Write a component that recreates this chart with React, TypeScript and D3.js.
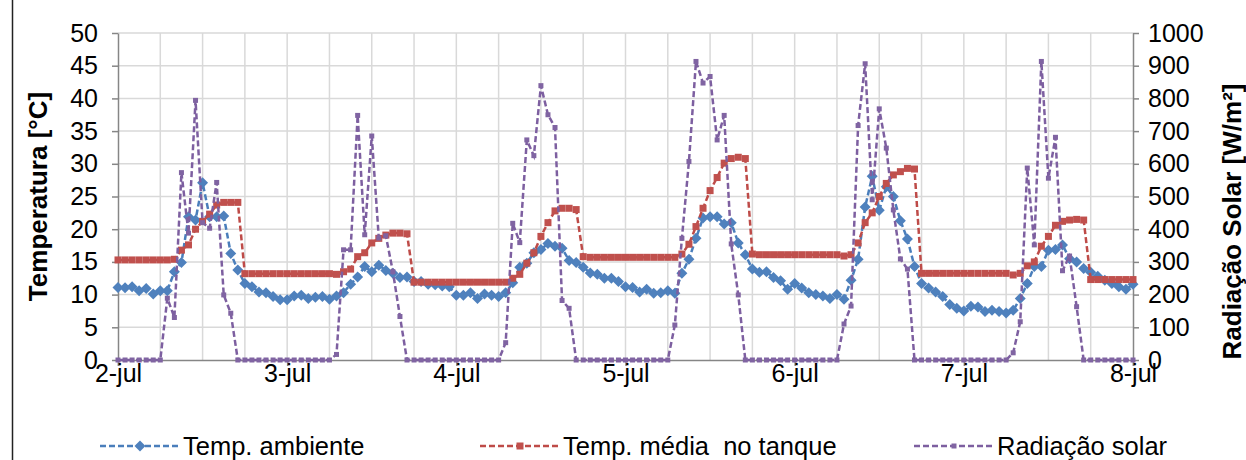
import React, {Component} from 'react';
import * as d3 from "d3"

// dias no eixo x (uma marca a cada 24 h)
const dayLabels = ["2-jul", "3-jul", "4-jul", "5-jul", "6-jul", "7-jul", "8-jul"]

// leituras horárias, 2-jul 00h até 8-jul 00h
const tempAmbiente = [
  11.1, 11.05, 11.2, 10.6, 10.95, 10.1, 10.6, 10.6, 13.5, 14.9, 21.9, 21.4, 27.1, 21.9, 21.9, 22.0, 16.3, 13.75, 11.7, 11.2, 10.4, 10.3, 9.7, 9.2,
  9.2, 9.8, 9.9, 9.4, 9.6, 9.7, 9.3, 9.8, 10.3, 11.6, 12.7, 14.3, 13.5, 14.5, 13.7, 13.25, 12.6, 12.7, 12.0, 12.0, 11.6, 11.5, 11.3, 11.2,
  9.9, 9.9, 10.3, 9.4, 10.1, 9.9, 9.7, 10.3, 11.8, 14.2, 14.8, 16.4, 16.9, 17.8, 17.4, 17.1, 15.2, 14.9, 14.2, 13.3, 13.1, 12.5, 12.5, 12.0,
  11.2, 11.1, 10.4, 10.8, 10.2, 10.3, 10.6, 10.2, 13.25, 15.4, 18.6, 21.7, 21.9, 21.9, 20.8, 21.0, 17.9, 16.1, 13.9, 13.4, 13.5, 12.6, 12.1, 10.8,
  11.7, 11.0, 10.3, 10.0, 9.8, 9.4, 10.0, 9.3, 12.2, 15.4, 23.4, 28.1, 22.9, 26.5, 25.0, 21.3, 18.5, 14.3, 11.7, 11.0, 10.4, 9.7, 8.5, 7.9,
  7.5, 8.2, 8.1, 7.4, 7.6, 7.4, 7.2, 7.6, 9.4, 11.7, 14.3, 14.3, 16.8, 16.9, 17.6, 15.5, 15.0, 14.0, 13.4, 12.8, 12.2, 11.7, 11.2, 10.8,
  11.6
]
const tempTanque = [
  15.3, 15.3, 15.3, 15.3, 15.3, 15.3, 15.3, 15.3, 15.4, 16.8, 17.6, 20.0, 21.2, 22.3, 23.7, 24.1, 24.1, 24.1, 13.2, 13.2, 13.2, 13.2, 13.2, 13.2,
  13.2, 13.2, 13.2, 13.2, 13.2, 13.2, 13.2, 13.1, 13.5, 13.9, 15.8, 16.4, 17.9, 18.6, 19.1, 19.4, 19.4, 19.3, 11.9, 11.9, 11.9, 11.9, 11.9, 11.9,
  11.9, 11.9, 11.9, 11.9, 11.9, 11.9, 11.9, 11.9, 12.5, 13.1, 14.8, 16.4, 18.9, 21.0, 22.8, 23.2, 23.2, 23.0, 15.8, 15.7, 15.7, 15.7, 15.7, 15.7,
  15.7, 15.7, 15.7, 15.7, 15.7, 15.7, 15.7, 15.7, 16.2, 17.7, 20.4, 23.2, 25.9, 27.9, 30.1, 30.8, 31.0, 30.8, 16.2, 16.1, 16.1, 16.1, 16.1, 16.1,
  16.1, 16.1, 16.1, 16.1, 16.1, 16.1, 16.1, 15.9, 16.1, 17.9, 21.0, 22.5, 25.0, 27.0, 28.3, 28.8, 29.3, 29.2, 13.25, 13.25, 13.25, 13.25, 13.25, 13.25,
  13.25, 13.25, 13.25, 13.25, 13.25, 13.25, 13.25, 13.0, 13.25, 14.4, 15.0, 17.4, 18.9, 20.6, 21.2, 21.4, 21.5, 21.4, 12.3, 12.3, 12.3, 12.3, 12.3, 12.3,
  12.3
]
const radiacaoSolar = [
  0, 0, 0, 0, 0, 0, 0, 189, 130, 573, 388, 794, 420, 403, 543, 199, 143, 0, 0, 0, 0, 0, 0, 0,
  0, 0, 0, 0, 0, 0, 0, 17, 337, 337, 748, 383, 685, 373, 380, 270, 133, 0, 0, 0, 0, 0, 0, 0,
  0, 0, 0, 0, 0, 0, 0, 53, 418, 359, 673, 625, 839, 750, 711, 182, 158, 0, 0, 0, 0, 0, 0, 0,
  0, 0, 0, 0, 0, 0, 0, 107, 372, 607, 913, 847, 867, 673, 748, 355, 199, 0, 0, 0, 0, 0, 0, 0,
  0, 0, 0, 0, 0, 0, 0, 110, 165, 717, 906, 490, 768, 648, 459, 309, 278, 0, 0, 0, 0, 0, 0, 0,
  0, 0, 0, 0, 0, 0, 0, 22, 117, 587, 352, 913, 556, 681, 273, 318, 163, 0, 0, 0, 0, 0, 0, 0,
  0
]

const seriesNames = ["Temp. ambiente", "Temp. média  no tanque", "Radiação solar"]

interface AppProps {}
interface AppState {}

class App extends Component<AppProps, AppState> {
  renderChart() {
    document.body.style.margin = "0"
    const width = 1246
    const height = 460
    const margin = {top: 33, right: 113, bottom: 100, left: 118}
    const font = "'Liberation Sans', Arial, sans-serif"

    const el = document.getElementById("chart") as HTMLElement
    el.innerHTML = ""
    const svg = d3.select(el).append("svg")
      .attr("width", width).attr("height", height)
      .style("display", "block")
      .style("font-family", font)

    svg.append("rect").attr("width", width).attr("height", height).attr("fill", "#fff")
    // moldura do gráfico
    svg.append("line").attr("x1", 12.5).attr("x2", 12.5).attr("y1", 0).attr("y2", height)
      .attr("stroke", "#222").attr("stroke-width", 1.5)

    const hours = d3.range(tempAmbiente.length)
    const x = d3.scaleLinear().domain([0, 144]).range([margin.left, width - margin.right])
    const yT = d3.scaleLinear().domain([0, 50]).range([height - margin.bottom, margin.top])
    const yR = d3.scaleLinear().domain([0, 1000]).range([height - margin.bottom, margin.top])

    // grelha
    const grid = svg.append("g").attr("stroke", "#d9d9d9").attr("stroke-width", 1.5)
    grid.selectAll(".h").data(d3.range(5, 55, 5)).join("line")
      .attr("x1", x(0)).attr("x2", x(144))
      .attr("y1", d => yT(d)).attr("y2", d => yT(d))
    grid.selectAll(".v").data(d3.range(6, 144, 6)).join("line")
      .attr("x1", d => x(d)).attr("x2", d => x(d))
      .attr("y1", yT(0)).attr("y2", yT(50))

    const styleAxis = (g: any) => {
      g.select(".domain").attr("stroke", "#868686").attr("stroke-width", 1.5)
      g.selectAll(".tick line").attr("stroke", "#868686").attr("stroke-width", 1.5)
      g.selectAll("text").attr("font-size", 25).attr("fill", "#000").attr("font-family", font)
    }

    svg.append("g")
      .attr("transform", `translate(0,${yT(0)})`)
      .call(d3.axisBottom(x).tickValues(d3.range(0, 145, 24)).tickSizeOuter(0).tickSize(6)
        .tickFormat((d: any, i: number) => dayLabels[i]))
      .call(styleAxis)
      .call((g: any) => g.selectAll("text").attr("y", 4))

    svg.append("g")
      .attr("transform", `translate(${x(0)},0)`)
      .call(d3.axisLeft(yT).tickValues(d3.range(0, 55, 5)).tickSize(6).tickSizeOuter(0).tickPadding(14))
      .call(styleAxis)

    svg.append("g")
      .attr("transform", `translate(${x(144)},0)`)
      .call(d3.axisRight(yR).tickValues(d3.range(0, 1100, 100)).tickFormat(d3.format("d"))
        .tickSize(6).tickSizeOuter(0).tickPadding(9))
      .call(styleAxis)

    // títulos dos eixos
    svg.append("text")
      .attr("transform", `translate(47,${(yT(0) + yT(50)) / 2}) rotate(-90)`)
      .attr("text-anchor", "middle").attr("font-size", 26).attr("font-weight", "bold")
      .text("Temperatura [°C]")
    svg.append("text")
      .attr("transform", `translate(1241,${(yT(0) + yT(50)) / 2 + 25}) rotate(-90)`)
      .attr("text-anchor", "middle").attr("font-size", 26).attr("font-weight", "bold")
      .text("Radiação Solar [W/m²]")

    // séries
    const series = [
      {values: tempAmbiente, y: yT, line: "#4a7ebb", fill: "#4f81bd", marker: "diamond", size: 5.5},
      {values: tempTanque, y: yT, line: "#be4b48", fill: "#c0504d", marker: "square", size: 7},
      {values: radiacaoSolar, y: yR, line: "#7d5fa0", fill: "#8064a2", marker: "square", size: 5},
    ]

    const drawMarker = (g: any, s: any, cx: number, cy: number) => {
      if (s.marker === "diamond") {
        const r = s.size
        g.append("path")
          .attr("d", `M${cx},${cy - r}L${cx + r},${cy}L${cx},${cy + r}L${cx - r},${cy}Z`)
          .attr("fill", s.fill)
      } else {
        g.append("rect")
          .attr("x", cx - s.size / 2).attr("y", cy - s.size / 2)
          .attr("width", s.size).attr("height", s.size)
          .attr("fill", s.fill)
      }
    }

    series.forEach(s => {
      const line = d3.line<number>().x(d => x(d)).y(d => s.y(s.values[d]))
      const g = svg.append("g")
      g.append("path").datum(hours).attr("d", line)
        .attr("fill", "none").attr("stroke", s.line)
        .attr("stroke-width", 2.5).attr("stroke-dasharray", "6,3")
      hours.forEach(h => drawMarker(g, s, x(h), s.y(s.values[h])))
    })

    // legenda
    const legendX = [100, 480, 914]
    const legendY = 446
    series.forEach((s, i) => {
      const g = svg.append("g")
      g.append("line").attr("x1", legendX[i]).attr("x2", legendX[i] + 80)
        .attr("y1", legendY).attr("y2", legendY)
        .attr("stroke", s.line).attr("stroke-width", 2.5).attr("stroke-dasharray", "6,3")
      drawMarker(g, s, legendX[i] + 40, legendY)
      g.append("text").attr("x", legendX[i] + 83).attr("y", legendY + 9)
        .attr("font-size", 25.5).style("white-space", "pre").text(seriesNames[i])
    })
  }

  componentDidMount() {
    this.renderChart()
  }

  public render(): JSX.Element {
    return <div id="chart"></div>
  }
}

export default App;
